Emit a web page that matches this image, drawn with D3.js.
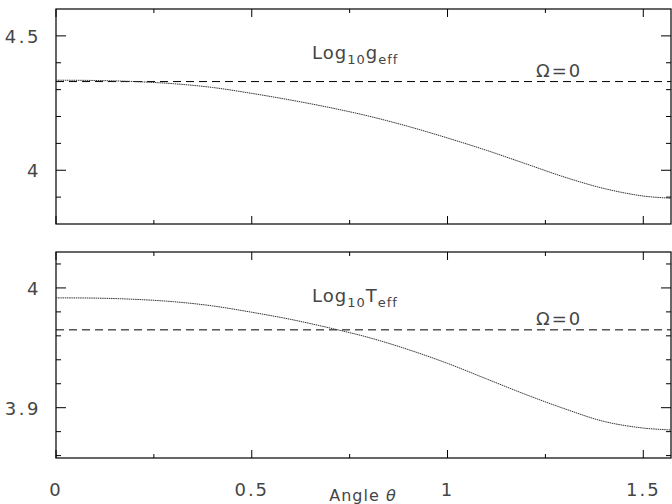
<!DOCTYPE html>
<html><head><meta charset="utf-8">
<script src="https://cdn.jsdelivr.net/npm/d3@7"></script>
<style>body{margin:0;background:#fff}svg{display:block}text{font-family:"DejaVu Sans",sans-serif;fill:#454545}</style>
</head><body><svg id="c" width="672" height="504"></svg>
<script>
// Data
const theta = [0, 0.1, 0.2, 0.3, 0.4, 0.5, 0.6, 0.7, 0.8, 0.9, 1.0, 1.1, 1.2, 1.3, 1.4, 1.5, 1.5708];
const logGeff = [4.335, 4.334, 4.330, 4.322, 4.308, 4.286, 4.261, 4.233, 4.201, 4.163, 4.120, 4.074, 4.024, 3.974, 3.932, 3.904, 3.896];
const logTeff = [3.9917, 3.9915, 3.9905, 3.9885, 3.9850, 3.9797, 3.9737, 3.9665, 3.9585, 3.9485, 3.9370, 3.9240, 3.9110, 3.8990, 3.8885, 3.8830, 3.8814];
const logGeff0 = 4.33;
const logTeff0 = 3.965;
const xMajor = [0, 0.5, 1, 1.5];
const xMinor = [0.25, 0.75, 1.25];
const xLabels = ["0", "0.5", "1", "1.5"];
const gMajor = [4, 4.5];
const gMinor = [3.9, 4.1, 4.2, 4.3, 4.4];
const gLabels = ["4", "4.5"];
const tMajor = [3.9, 4];
const tMinor = [3.86, 3.88, 3.92, 3.94, 3.96, 3.98, 4.02];
const tLabels = ["3.9", "4"];

const svg = d3.select("#c");
const L = 56, R = 671;
const x = d3.scaleLinear().domain([0, Math.PI / 2]).range([L, R]);

const panels = [
  {y: d3.scaleLinear().domain([3.8, 4.6]).range([224, 9]), vals: logGeff, ref: logGeff0,
   major: gMajor, minor: gMinor, labels: gLabels, sub: "g"},
  {y: d3.scaleLinear().domain([3.858, 4.03]).range([458, 252]), vals: logTeff, ref: logTeff0,
   major: tMajor, minor: tMinor, labels: tLabels, sub: "T"}
];

panels.forEach((p, i) => {
  const g = svg.append("g");
  const [yb, yt] = p.y.range();
  const tk = g.append("g").attr("stroke", "#000").attr("stroke-width", 1);
  xMajor.forEach(v => {
    tk.append("line").attr("x1", x(v)).attr("x2", x(v)).attr("y1", yb).attr("y2", yb - 8);
    tk.append("line").attr("x1", x(v)).attr("x2", x(v)).attr("y1", yt).attr("y2", yt + 8);
  });
  xMinor.forEach(v => {
    tk.append("line").attr("x1", x(v)).attr("x2", x(v)).attr("y1", yb).attr("y2", yb - 4);
    tk.append("line").attr("x1", x(v)).attr("x2", x(v)).attr("y1", yt).attr("y2", yt + 4);
  });
  p.major.forEach(v => {
    tk.append("line").attr("x1", L).attr("x2", L + 10).attr("y1", p.y(v)).attr("y2", p.y(v));
    tk.append("line").attr("x1", R).attr("x2", R - 10).attr("y1", p.y(v)).attr("y2", p.y(v));
  });
  p.minor.forEach(v => {
    tk.append("line").attr("x1", L).attr("x2", L + 5).attr("y1", p.y(v)).attr("y2", p.y(v));
    tk.append("line").attr("x1", R).attr("x2", R - 5).attr("y1", p.y(v)).attr("y2", p.y(v));
  });
  p.major.forEach((v, k) => {
    g.append("text").attr("x", 41).attr("y", p.y(v) + 7).attr("text-anchor", "end")
      .attr("font-size", 18).attr("letter-spacing", 2.5).text(p.labels[k]);
  });
  g.append("rect").attr("x", L).attr("y", yt).attr("width", R - L).attr("height", yb - yt)
    .attr("fill", "none").attr("stroke", "#000").attr("stroke-width", 1.2);
  g.append("line").attr("x1", L).attr("x2", R).attr("y1", p.y(p.ref)).attr("y2", p.y(p.ref))
    .attr("stroke", "#000").attr("stroke-width", 1).attr("stroke-dasharray", "8,5");
  const line = d3.line().x(d => x(d[0])).y(d => p.y(d[1])).curve(d3.curveCatmullRom);
  g.append("path").datum(theta.map((t, k) => [t, p.vals[k]])).attr("d", line)
    .attr("fill", "none").attr("stroke", "#333").attr("stroke-width", 1)
    .attr("stroke-dasharray", "1.5,0.7");
  const lab = g.append("text").attr("x", 312).attr("y", yt + 50).attr("font-size", 18).attr("letter-spacing", 1);
  lab.append("tspan").text("Log");
  lab.append("tspan").attr("dy", 5).attr("font-size", 13).text("10");
  lab.append("tspan").attr("dy", -5).text(p.sub);
  lab.append("tspan").attr("dy", 5).attr("font-size", 13).text("eff");
  g.append("text").attr("x", 536).attr("y", p.y(p.ref) - 5).attr("font-size", 18)
    .attr("letter-spacing", 2).text("Ω=0");
});

xMajor.forEach((v, k) => {
  svg.append("text").attr("x", x(v)).attr("y", 496).attr("text-anchor", "middle")
    .attr("font-size", 18).attr("letter-spacing", 2).text(xLabels[k]);
});
const xt = svg.append("text").attr("x", 363).attr("y", 501).attr("text-anchor", "middle")
  .attr("font-size", 16).attr("letter-spacing", 1);
xt.append("tspan").text("Angle ");
xt.append("tspan").attr("font-style", "italic").text("θ");
</script></body></html>
